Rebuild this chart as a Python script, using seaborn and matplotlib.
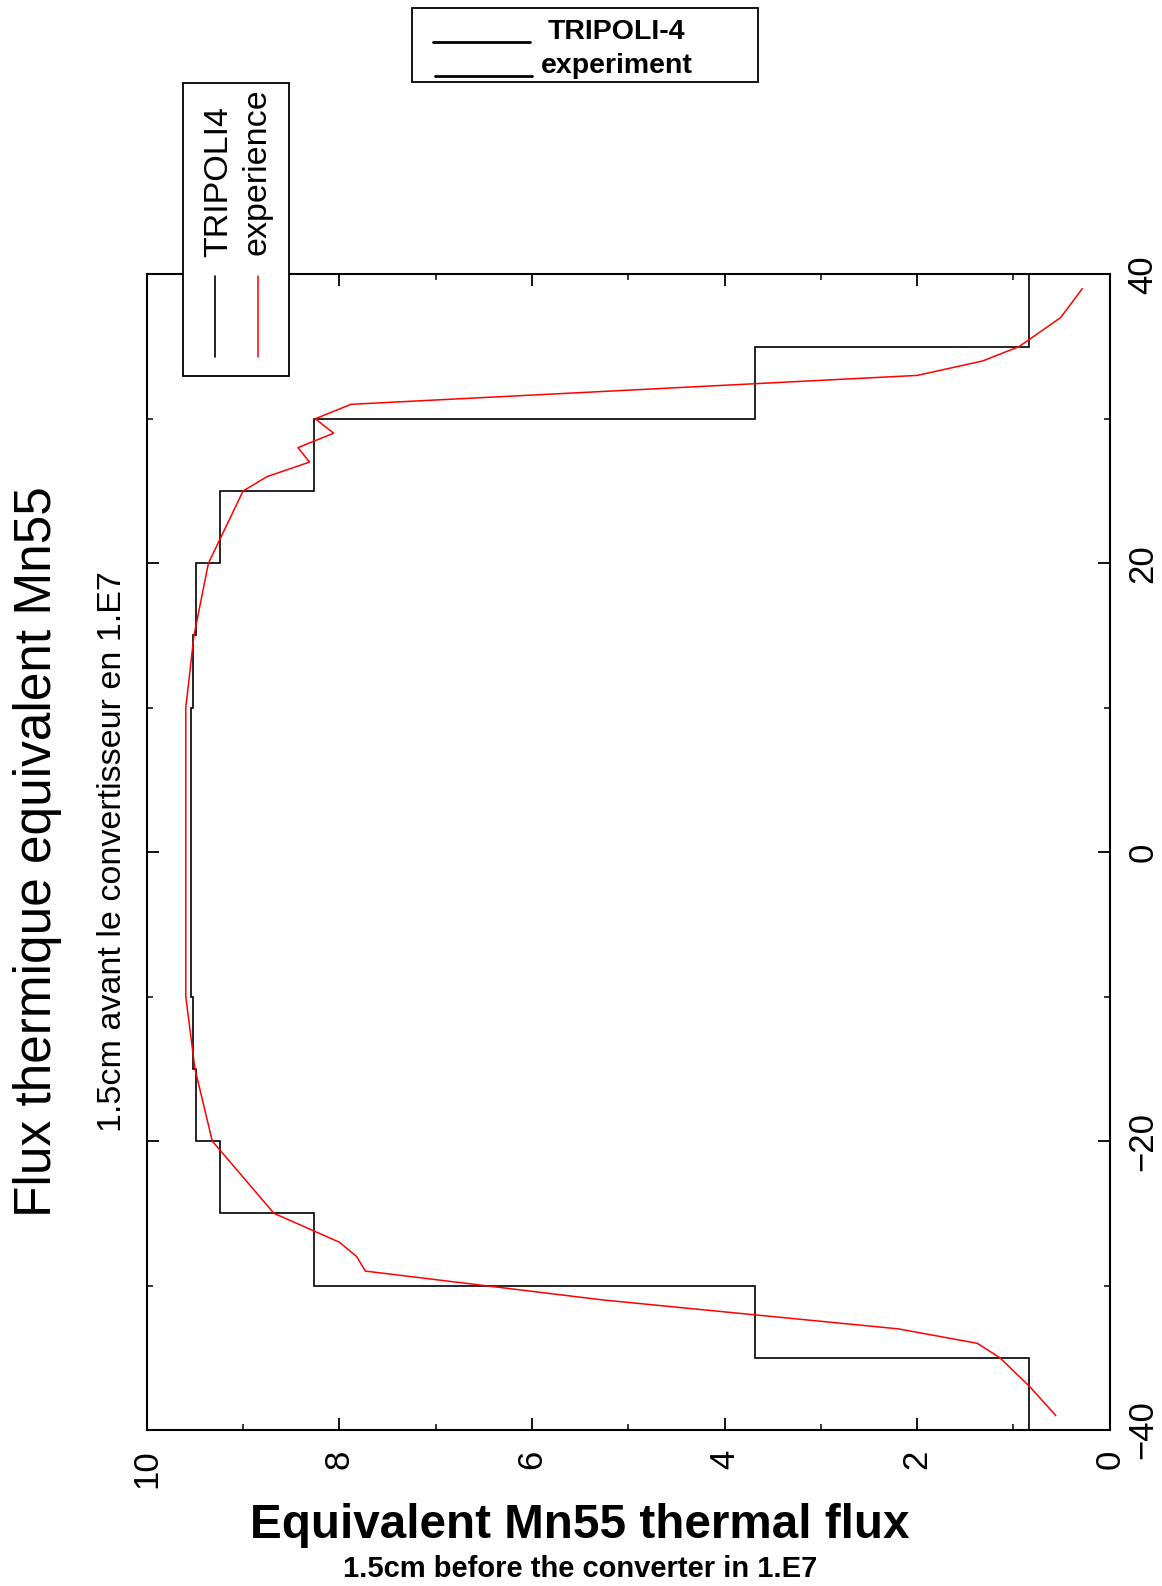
import numpy as np
import pandas as pd
import matplotlib
matplotlib.use("Agg")
import matplotlib.pyplot as plt
import seaborn as sns
from matplotlib.lines import Line2D
from matplotlib.patches import Rectangle
from matplotlib.transforms import Affine2D

# ---------------- data ----------------
tripoli_edges = [-40, -35, -30, -25, -20, -15, -10, 10, 15, 20, 25, 30, 35, 40]
tripoli_flux = [0.84, 3.68, 8.26, 9.24, 9.49, 9.52, 9.545, 9.52, 9.49, 9.24, 8.26, 3.68, 0.84]

exp_pos = [-39, -37, -35, -34, -33, -31, -29, -28, -27, -25, -20, -15, -10,
           10, 15, 20, 25, 26, 27, 28, 29, 30, 31, 33, 34, 35, 37, 39]
exp_flux = [0.56, 0.83, 1.14, 1.375, 2.195, 5.26, 7.73, 7.82, 8.0, 8.68, 9.32, 9.50, 9.595,
            9.595, 9.51, 9.36, 9.0, 8.75, 8.31, 8.43, 8.06, 8.25, 7.88, 2.0, 1.32, 0.94, 0.51, 0.285]

flux_major = [0, 2, 4, 6, 8, 10]
flux_minor = [1, 3, 5, 7, 9]
pos_major = [-40, -20, 0, 20, 40]
pos_minor = [-30, -10, 10, 30]

# ---------------- style ----------------
sns.set_style("ticks")
plt.rcParams["font.family"] = ["Liberation Sans", "DejaVu Sans"]
plt.rcParams["axes.unicode_minus"] = True
plt.rcParams["text.color"] = "black"
plt.rcParams["axes.labelcolor"] = "black"
plt.rcParams["xtick.color"] = "black"
plt.rcParams["ytick.color"] = "black"

W, H = 1162, 1586
fig = plt.figure(figsize=(W / 100, H / 100), dpi=100)
T = Affine2D().scale(1 / W, -1 / H).translate(0, 1) + fig.transFigure

L, R, TOP, BOT = 146.8, 1109.7, 274.3, 1430.0
ax = fig.add_axes([L / W, 1 - BOT / H, (R - L) / W, (BOT - TOP) / H])

ax.stairs(tripoli_flux, tripoli_edges, orientation="horizontal", baseline=None,
          color="black", lw=1.2, zorder=2)
df = pd.DataFrame({"flux": exp_flux, "pos": exp_pos})
sns.lineplot(data=df, x="flux", y="pos", orient="y", sort=False, estimator=None,
             color="red", lw=1.1, ax=ax, zorder=3)

ax.set_xlim(10, 0)
ax.set_ylim(-40, 40)
ax.set_xlabel("")
ax.set_ylabel("")
for s in ax.spines.values():
    s.set_visible(True)
    s.set_color("black")
    s.set_linewidth(1.5)

ax.set_xticks(flux_major)
ax.set_xticks(flux_minor, minor=True)
ax.set_yticks(pos_major)
ax.set_yticks(pos_minor, minor=True)
ax.set_xticklabels([str(v) for v in flux_major])
ax.set_yticklabels([("\u2212" + str(-v)) if v < 0 else str(v) for v in pos_major])

ax.tick_params(axis="both", which="both", direction="in", colors="black",
               labelcolor="black", top=True, bottom=True, left=True, right=True)
ax.tick_params(axis="both", which="major", length=8.5, width=1.3, labelsize=25)
ax.tick_params(axis="both", which="minor", length=4.5, width=1.1)
ax.tick_params(axis="x", which="both", labelbottom=True, labeltop=False,
               labelrotation=90, pad=14)
ax.tick_params(axis="y", which="both", labelleft=False, labelright=True,
               labelrotation=90, pad=12)
plt.setp(ax.get_yticklabels(), va="center")
plt.setp(ax.get_xticklabels(), ha="center", va="top")

# ---------------- titles ----------------
fig.text(51, 852, "Flux thermique equivalent Mn55", transform=T, rotation=90,
         rotation_mode="anchor", ha="center", va="baseline", fontsize=37, color="black")
fig.text(121, 852, "1.5cm avant le convertisseur en 1.E7", transform=T, rotation=90,
         rotation_mode="anchor", ha="center", va="baseline", fontsize=24.5, color="black")
fig.text(580, 1538, "Equivalent Mn55 thermal flux", transform=T, ha="center",
         va="baseline", fontsize=34.3, fontweight="bold", color="black")
fig.text(580, 1577, "1.5cm before the converter in 1.E7", transform=T, ha="center",
         va="baseline", fontsize=21, fontweight="bold", color="black")

# ---------------- rotated legend (left) ----------------
fig.add_artist(Rectangle((183, 83), 106, 293, transform=T, facecolor="white",
                         edgecolor="black", lw=1.3, zorder=5))
fig.add_artist(Line2D([215, 215], [276, 357], transform=T, color="black", lw=1.2, zorder=6))
fig.add_artist(Line2D([258, 258], [276, 357], transform=T, color="red", lw=1.1, zorder=6))
fig.text(227, 257, "TRIPOLI4", transform=T, rotation=90, rotation_mode="anchor",
         ha="left", va="baseline", fontsize=24.5, zorder=6, color="black")
fig.text(266, 255, "experience", transform=T, rotation=90, rotation_mode="anchor",
         ha="left", va="baseline", fontsize=24.5, zorder=6, color="black")

# ---------------- top legend ----------------
fig.add_artist(Rectangle((412, 8), 346, 74, transform=T, facecolor="white",
                         edgecolor="black", lw=1.3, zorder=5))
fig.add_artist(Line2D([433, 530], [42, 42], transform=T, color="black", lw=2.0, zorder=6))
fig.add_artist(Line2D([435, 532], [76, 76], transform=T, color="black", lw=2.0, zorder=6))
fig.text(548, 39, "TRIPOLI-4", transform=T, ha="left", va="baseline",
         fontsize=20.5, fontweight="bold", zorder=6, color="black")
fig.text(541, 73, "experiment", transform=T, ha="left", va="baseline",
         fontsize=20.5, fontweight="bold", zorder=6, color="black")

fig.savefig("out.png", dpi=100, facecolor="white")
